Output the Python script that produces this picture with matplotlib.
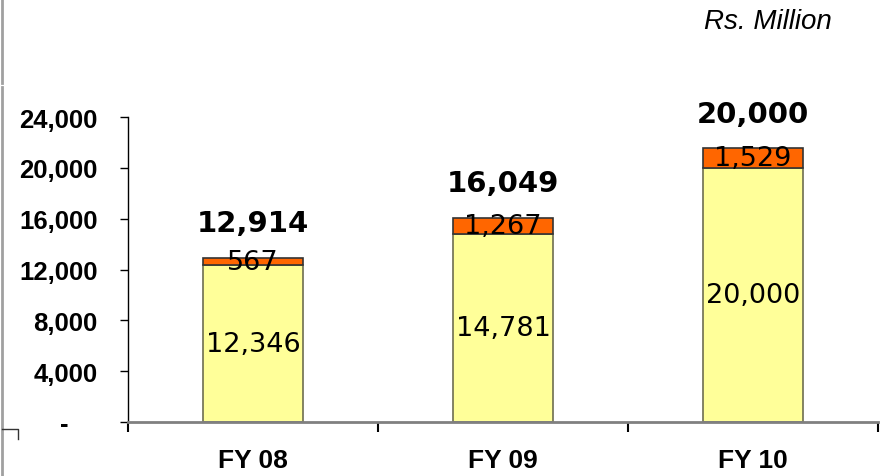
import matplotlib.pyplot as plt
from matplotlib.lines import Line2D

years = ['FY 08', 'FY 09', 'FY 10']
base = [12346, 14781, 20000]
extra = [567, 1267, 1529]
totals = [12914, 16049, 20000]
yticks = [0, 4000, 8000, 12000, 16000, 20000, 24000]

fig = plt.figure(figsize=(8.83, 4.77), dpi=100)
ax = fig.add_axes([128 / 883, 1 - 423 / 477, 750 / 883, 305 / 477])

x = list(range(len(years)))
ax.bar(x, base, width=0.4, color='#FFFF99', edgecolor='#6e6e50', linewidth=1.2)
ax.bar(x, extra, width=0.4, bottom=base, color='#FF6600', edgecolor='#333333', linewidth=1.2)

for i in x:
    ax.text(i, base[i] / 2, f'{base[i]:,}', ha='center', va='center',
            fontsize=19.5, family='DejaVu Sans')
    ax.text(i, base[i] + extra[i] / 2, f'{extra[i]:,}', ha='center', va='center',
            fontsize=19.5, family='DejaVu Sans')
    ax.annotate(f'{totals[i]:,}', (i, base[i] + extra[i]), xytext=(0, 25),
                textcoords='offset points', ha='center', va='center',
                fontsize=21, fontweight='bold', family='DejaVu Sans')

ax.set_xlim(-0.5, 2.5)
ax.set_ylim(0, 24000)

# y axis
ax.set_yticks(yticks)
ax.set_yticklabels(['-    '] + [f'{v:,}' for v in yticks[1:]],
                   fontsize=18.5, fontweight='bold', family='Liberation Sans')
ax.tick_params(axis='y', direction='out', length=6, width=1, pad=16, color='black')

# x axis: tick marks at category boundaries, labels at centres
ax.set_xticks([-0.5, 0.5, 1.5, 2.5])
ax.set_xticklabels([])
ax.set_xticks(x, minor=True)
ax.set_xticklabels(years, minor=True, fontsize=19, fontweight='bold',
                   family='Liberation Sans')
ax.tick_params(axis='x', which='major', direction='out', length=7, width=1.5, color='black')
ax.tick_params(axis='x', which='minor', length=0, pad=19)

ax.spines['top'].set_visible(False)
ax.spines['right'].set_visible(False)
ax.spines['left'].set_color('black')
ax.spines['left'].set_linewidth(1)
ax.spines['bottom'].set_color('#808080')
ax.spines['bottom'].set_linewidth(2)

fig.text(832 / 883, 1 - 22 / 477, 'Rs. Million', ha='right', va='center',
         fontsize=20, style='italic', family='Liberation Sans')

# frame fragments on the left edge
fig.add_artist(Line2D([2 / 883, 2 / 883], [1, 1 - 84 / 477], color='#a0a0a0', lw=2))
fig.add_artist(Line2D([2 / 883, 2 / 883], [1 - 88 / 477, 0], color='#a0a0a0', lw=2))
fig.add_artist(Line2D([2 / 883, 18 / 883, 18 / 883],
                      [1 - 430 / 477, 1 - 430 / 477, 1 - 440 / 477], color='#333333', lw=1))

fig.savefig('out.png', dpi=100)
